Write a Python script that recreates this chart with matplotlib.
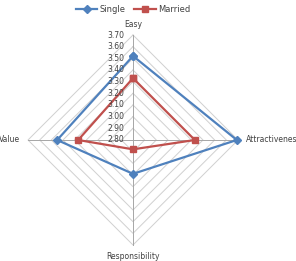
import numpy as np
import matplotlib
matplotlib.use("Agg")
import matplotlib.pyplot as plt

categories = ["Easy", "Attractiveness", "Responsibility", "Value"]
single = [3.52, 3.69, 3.09, 3.45]
married = [3.33, 3.33, 2.88, 3.27]
tick_values = [2.80, 2.90, 3.00, 3.10, 3.20, 3.30, 3.40, 3.50, 3.60, 3.70]
tick_labels = ["2.80", "2.90", "3.00", "3.10", "3.20", "3.30", "3.40", "3.50", "3.60", "3.70"]

rmin, rmax = tick_values[0], tick_values[-1]
R = rmax - rmin
# angles: Easy at top, then clockwise
angles = np.pi / 2 - np.arange(len(categories)) * 2 * np.pi / len(categories)

def to_xy(vals):
    r = np.asarray(vals) - rmin
    x = r * np.cos(angles)
    y = r * np.sin(angles)
    return np.append(x, x[0]), np.append(y, y[0])

W, H = 296, 261
fig = plt.figure(figsize=(W / 100, H / 100), dpi=100)
cx, cy, rad = 133, 140, 105
ax = fig.add_axes([(cx - rad) / W, (H - cy - rad) / H, 2 * rad / W, 2 * rad / H])
ax.set_xlim(-R, R)
ax.set_ylim(-R, R)
ax.axis("off")

grid_col = "#d0d0d0"
for tv in tick_values[1:]:
    gx, gy = to_xy([tv] * len(categories))
    ax.plot(gx, gy, color=grid_col, lw=0.7, zorder=1, clip_on=False)
for a in angles:
    ax.plot([0, R * np.cos(a)], [0, R * np.sin(a)], color="#a6a6a6", lw=0.7, zorder=1, clip_on=False)

sx, sy = to_xy(single)
mx, my = to_xy(married)
ax.plot(sx, sy, color="#4f81bd", lw=1.6, marker="D", ms=4.5, zorder=3, clip_on=False, label="Single")
ax.plot(mx, my, color="#c0504d", lw=1.6, marker="s", ms=5, zorder=3, clip_on=False, label="Married")

txt_col = "#404040"
fs = 5.5
for tv, tl in zip(tick_values, tick_labels):
    ax.annotate(tl, (0, tv - rmin), xytext=(-6, 0), textcoords="offset points",
                ha="right", va="center", fontsize=fs, color=txt_col, annotation_clip=False)

ax.annotate(categories[0], (0, R), xytext=(0, 4.5), textcoords="offset points",
            ha="center", va="bottom", fontsize=fs, color=txt_col, annotation_clip=False)
ax.annotate(categories[1], (R, 0), xytext=(6, 0), textcoords="offset points",
            ha="left", va="center", fontsize=fs, color=txt_col, annotation_clip=False)
ax.annotate(categories[2], (0, -R), xytext=(0, -5), textcoords="offset points",
            ha="center", va="top", fontsize=fs, color=txt_col, annotation_clip=False)
ax.annotate(categories[3], (-R, 0), xytext=(-6, 0), textcoords="offset points",
            ha="right", va="center", fontsize=fs, color=txt_col, annotation_clip=False)

leg = fig.legend(loc="upper center", bbox_to_anchor=(0.45, 1.01), ncol=2, frameon=False,
                 fontsize=6, handlelength=2.6, columnspacing=1.0, handletextpad=0.3)
for t in leg.get_texts():
    t.set_color(txt_col)

fig.savefig("out.png", dpi=100)
